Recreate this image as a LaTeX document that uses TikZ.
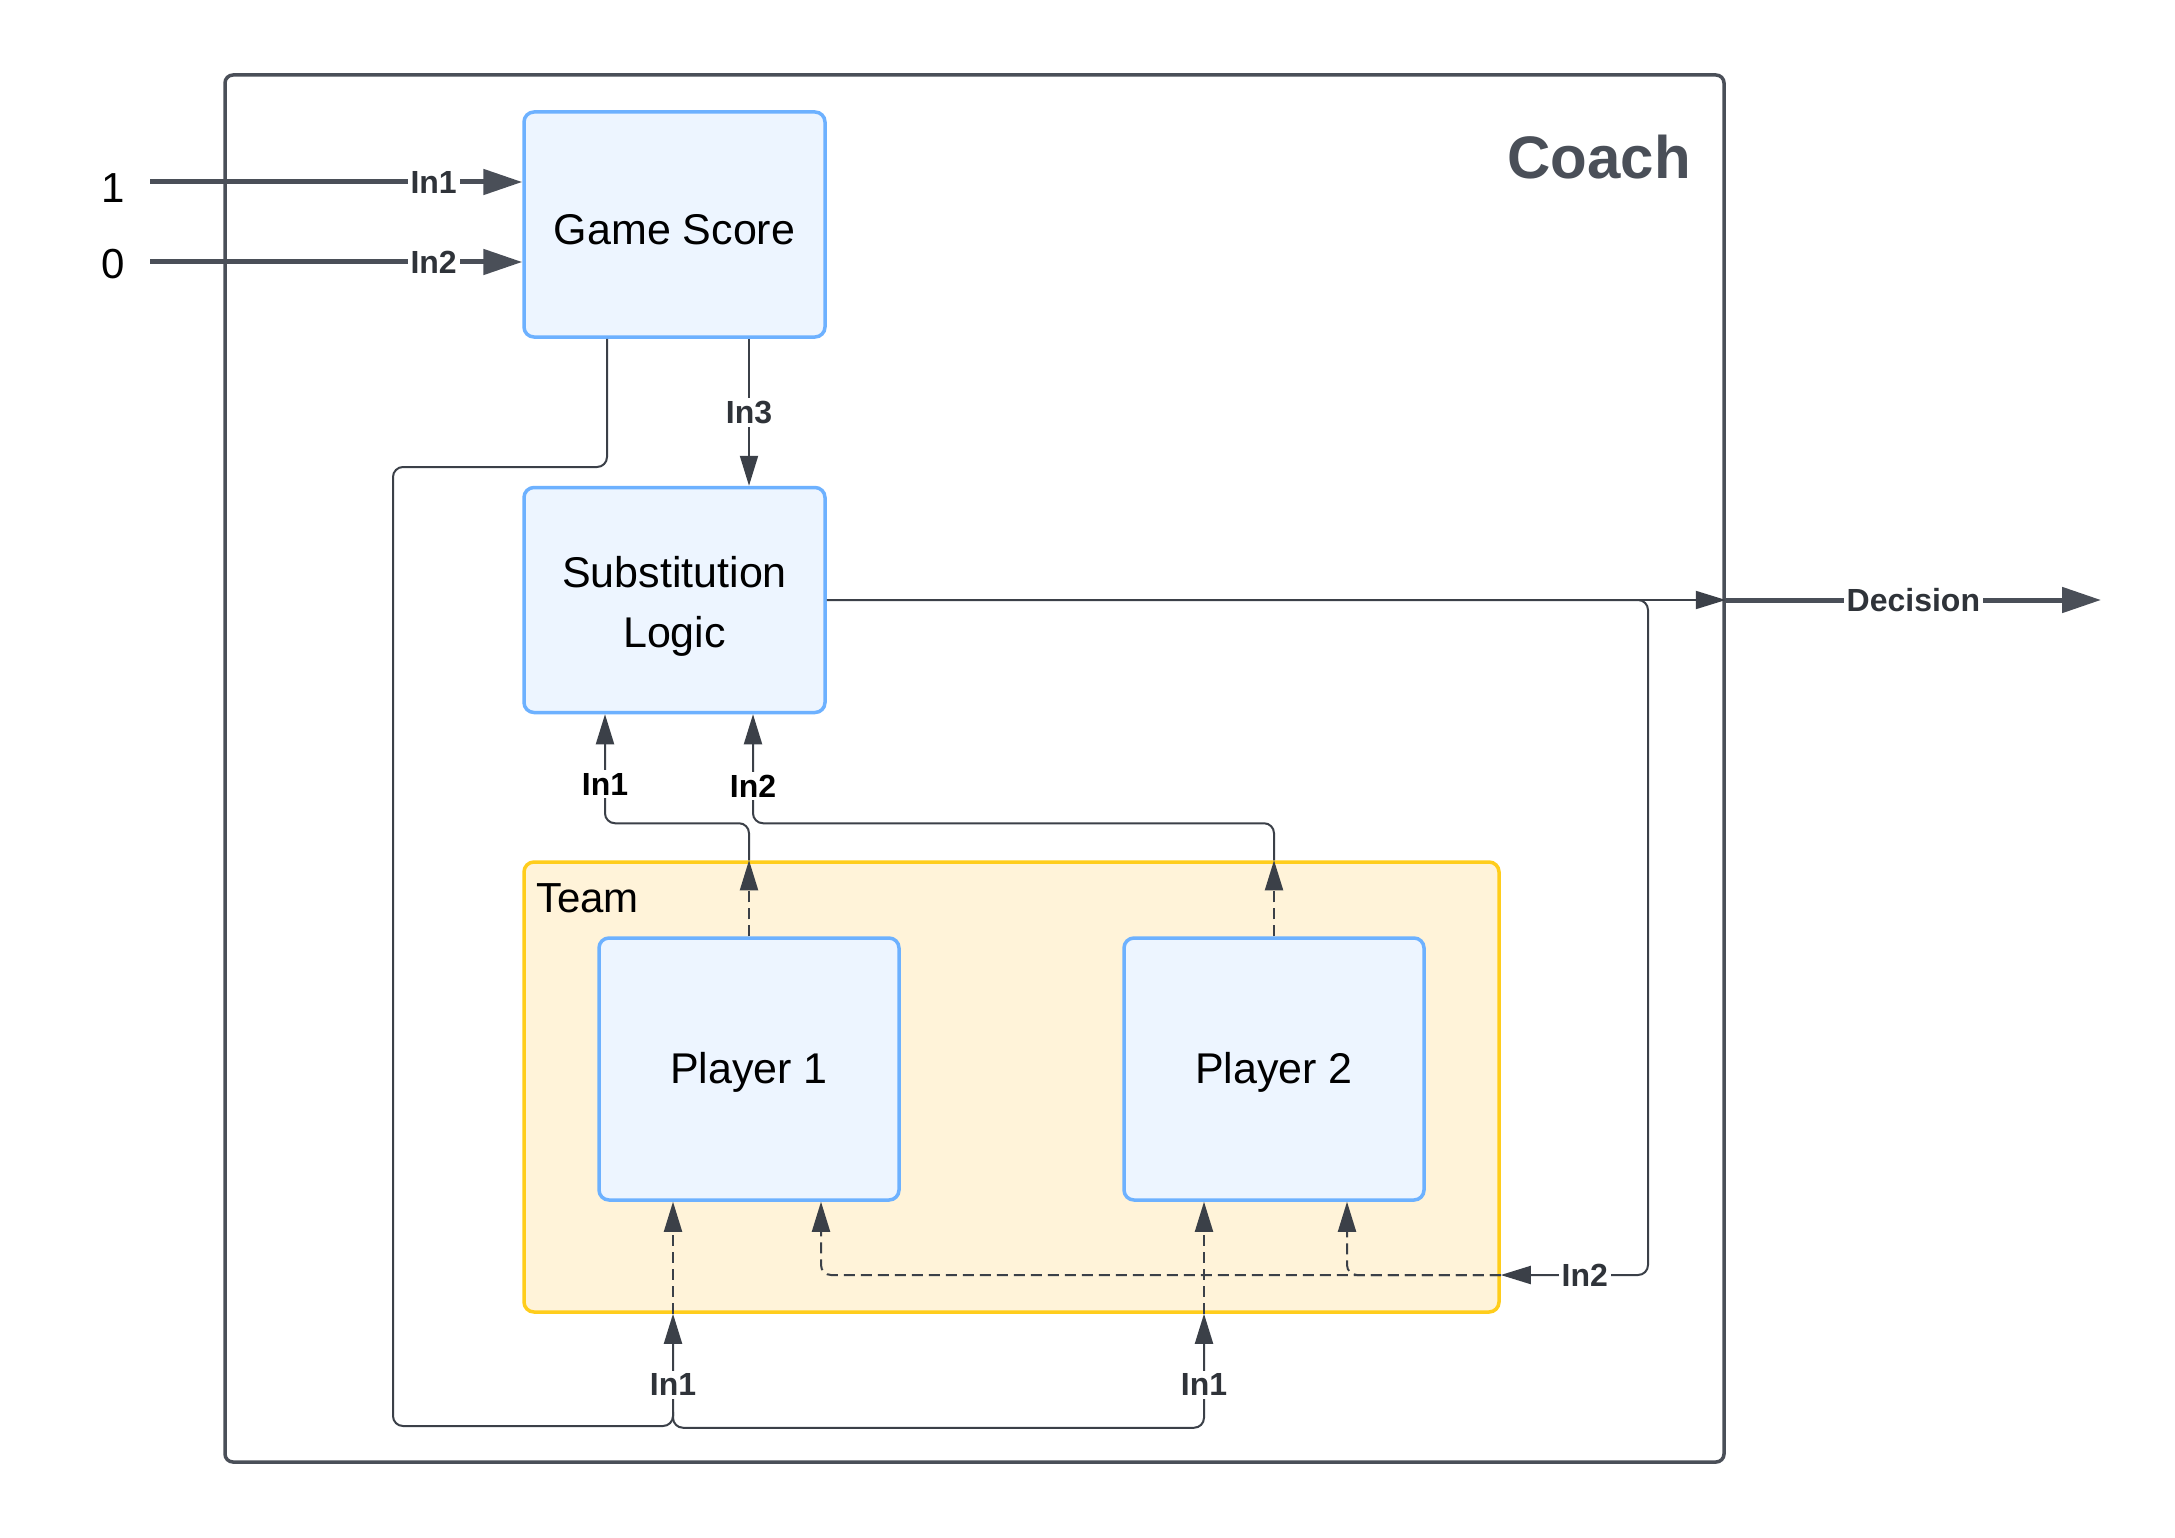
\documentclass[tikz,border=0pt]{standalone}
\usepackage{fontspec}
\setmainfont{Liberation Sans}
\usetikzlibrary{arrows.meta,calc}
\definecolor{wire}{HTML}{3B4048}
\definecolor{coachc}{HTML}{4A4F58}
\definecolor{blockfill}{HTML}{EDF5FF}
\definecolor{blockdraw}{HTML}{6DB1FF}
\definecolor{teamfill}{HTML}{FFF3D9}
\definecolor{teamdraw}{HTML}{FFCD1C}
\definecolor{lblc}{HTML}{2F3339}
\begin{document}
\begin{tikzpicture}[x=1pt,y=-1pt,
  coachbox/.style={draw=coachc,line width=3.5pt,rounded corners=8pt,minimum width=1499pt,minimum height=1387pt,inner sep=0pt},
  block/.style={draw=blockdraw,fill=blockfill,line width=3.5pt,rounded corners=10pt,inner sep=0pt},
  btext/.style={text=black,font=\fontsize{43}{60}\selectfont,align=center,inner sep=0pt},
  teambox/.style={draw=teamdraw,fill=teamfill,line width=3.5pt,rounded corners=10pt,minimum width=975pt,minimum height=450pt,inner sep=0pt},
  conn/.style={draw=wire,line width=2pt,-{Triangle[length=30pt,width=18pt]}},
  dconn/.style={draw=wire,line width=2pt,dash pattern=on 11pt off 6pt,-{Triangle[length=30pt,width=18pt]}},
  bus/.style={draw=coachc,line width=5pt,-{Triangle[length=39pt,width=25pt]}},
  lbl/.style={font=\bfseries\fontsize{32}{32}\selectfont,text=lblc,fill=white,inner sep=3pt},
  numlbl/.style={font=\fontsize{42}{42}\selectfont,text=black,anchor=base,inner sep=0pt},
  rc/.style={rounded corners=10pt}
]
\useasboundingbox[fill=white] (0,0) rectangle (2175,1538);

% containers
\node[coachbox] (coach) at (974.5,768.5) {};
\node[font=\bfseries\fontsize{60}{60}\selectfont,text=coachc,anchor=base east,inner sep=0pt] (coachlbl) at (1691,179) {Coach};
\node[teambox] (team) at (1011.5,1087) {};
\node[font=\fontsize{42}{42}\selectfont,anchor=base west,inner sep=0pt] (teamlbl) at (536,912) {Team};

% blocks
\node[block,minimum width=301pt,minimum height=225pt] (gs) at (674.5,224.5) {};
\node[block,minimum width=301pt,minimum height=225pt] (sl) at (674.5,600) {};
\node[block,minimum width=300pt,minimum height=262pt] (p1) at (749,1069) {};
\node[block,minimum width=300pt,minimum height=262pt] (p2) at (1274,1069) {};
\node[btext] (gst) at ($(gs.center)+(0,5)$) {Game Score};
\node[btext] (slt) at ($(sl.center)+(0,6)$) {Substitution\\Logic};
\node[btext] (p1t) at ($(p1.center)+(0,3)$) {Player 1};
\node[btext] (p2t) at ($(p2.center)+(0,3)$) {Player 2};

% external inputs
\node[numlbl] (n1) at (113,203) {1};
\node[numlbl] (n0) at (113,278) {0};
\coordinate (s1) at (150,182);
\coordinate (s2) at (150,262);
\draw[bus] (s1) -- (gs.west |- s1) node[lbl,pos=0.762] (l1) {In1};
\draw[bus] (s2) -- (gs.west |- s2) node[lbl,pos=0.762] (l2) {In2};

% Game Score -> Substitution Logic
\coordinate (gsB) at ([xshift=74.5pt]gs.south);
\coordinate (slIn3) at ([xshift=74.5pt]sl.north);
\draw[conn] (gsB) -- (slIn3) node[lbl,midway] (l3) {In3};

% Game Score -> players In1
\coordinate (gsA) at ([xshift=-67.5pt]gs.south);
\coordinate (p1i1) at ([xshift=-76pt]p1.south);
\coordinate (p1i2) at ([xshift=72pt]p1.south);
\coordinate (p2i1) at ([xshift=-70pt]p2.south);
\coordinate (p2i2) at ([xshift=73pt]p2.south);
\coordinate (t1) at (team.south -| p1i1);
\coordinate (t2) at (team.south -| p2i1);
\coordinate (k1) at (393,467);
\coordinate (k2) at (393,1426);
\coordinate (k3) at ($(t1)+(0,98)$);
\draw[conn,rc] (gsA) |- (k1) -- (k2) -| (t1);
\draw[conn,rc] (k3) -- ($(t1)+(0,114)$) -| (t2);
\node[lbl] (l4) at ($(t1)+(0,71)$) {In1};
\node[lbl] (l5) at ($(t2)+(0,71)$) {In1};
\draw[dconn] (t1) -- (p1i1);
\draw[dconn] (t2) -- (p2i1);

% Substitution Logic -> Decision and In2 feedback
\coordinate (cE) at (coach.east |- sl.east);
\coordinate (dec) at (2101,600);
\draw[conn] (sl.east) -- (cE);
\draw[bus] (cE) -- (dec) node[lbl,midway] (l6) {Decision};
\coordinate (k4) at (1648,600);
\coordinate (tr) at ($(team.east)+(0,188)$);
\draw[conn,rc] (sl.east) -- (k4) -- (k4 |- tr) -- (tr);
\node[lbl] (l7) at ($(tr)+(84,0)$) {In2};
\draw[dconn,rc] (tr) -| (p2i2);
\draw[dconn,rc] (tr) -| (p1i2);

% players -> Substitution Logic
\coordinate (t3) at (team.north -| p1.north);
\coordinate (t4) at (team.north -| p2.north);
\coordinate (slIn1) at ([xshift=-69.5pt]sl.south);
\coordinate (slIn2) at ([xshift=78.5pt]sl.south);
\draw[dconn] (p1.north) -- (t3);
\draw[dconn] (p2.north) -- (t4);
\draw[conn,rc] (t3) -- ($(t3)+(0,-37)$) -| (slIn1);
\draw[conn,rc] (t4) -- ($(t4)+(0,-37)$) -| (slIn2);
\node[lbl,text=black] (l8) at ($(slIn1)+(0,70)$) {In1};
\node[lbl,text=black] (l9) at ($(slIn2)+(0,72)$) {In2};
\end{tikzpicture}
\end{document}
